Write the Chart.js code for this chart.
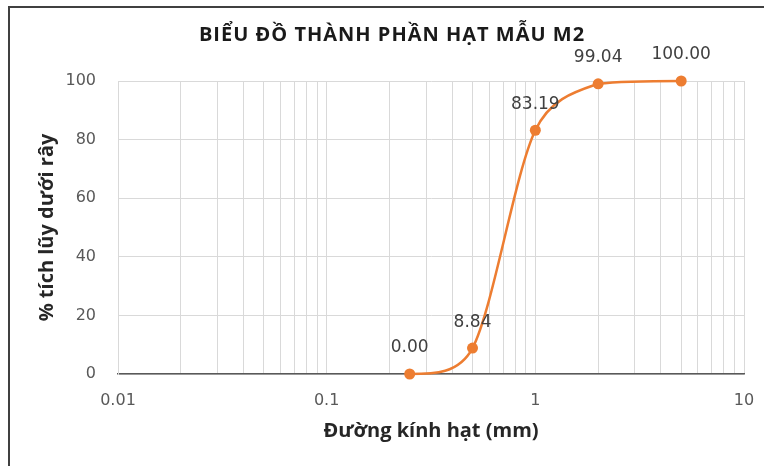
<!DOCTYPE html>
<html>
<head>
<meta charset="utf-8">
<script src="https://cdn.jsdelivr.net/npm/chart.js@4/dist/chart.umd.min.js"></script>
<style>
  html, body { margin: 0; padding: 0; background: #ffffff; }
  #c { display: block; }
</style>
</head>
<body>
<canvas id="c" width="764" height="466"></canvas>
<script>
// ---- data ----
const chartTitle = "BIỂU ĐỒ THÀNH PHẦN HẠT MẪU M2";
const xAxisTitle = "Đường kính hạt (mm)";
const yAxisTitle = "% tích lũy dưới rây";
const grainSizes = [0.25, 0.5, 1, 2, 5];            // mm
const passingPct = [0.00, 8.84, 83.19, 99.04, 100.00]; // %
const xDecades = [0.01, 0.1, 1];
const xMultiples = [1, 2, 3, 4, 5, 6, 7, 8, 9];
const xMin = 0.01, xMax = 10;
const yMin = 0, yMax = 100, yStep = 20;

const ORANGE = '#ED7D31';

const gridValues = [];
xDecades.forEach(d => xMultiples.forEach(m => gridValues.push(+(d * m).toPrecision(3))));
gridValues.push(xMax);

const framePlugin = {
  id: 'frame',
  beforeDraw(chart) {
    const ctx = chart.ctx;
    ctx.save();
    ctx.fillStyle = '#ffffff';
    ctx.fillRect(0, 0, chart.width, chart.height);
    ctx.strokeStyle = '#404040';
    ctx.lineWidth = 2;
    ctx.beginPath();
    ctx.moveTo(9, chart.height);
    ctx.lineTo(9, 7);
    ctx.lineTo(chart.width, 7);
    ctx.stroke();
    // title
    ctx.fillStyle = '#1a1a1a';
    ctx.font = 'bold 20px "Open Sans"';
    ctx.letterSpacing = '1px';
    ctx.textAlign = 'center';
    ctx.textBaseline = 'alphabetic';
    ctx.fillText(chartTitle, 392, 41);
    ctx.restore();
  }
};

// Office-style smoothed line: control arms along the neighbour chord,
// length |T|/6 limited by the adjacent segment, flat-ish ends.
const smoothPlugin = {
  id: 'excelSmooth',
  beforeDatasetDraw(chart, args) {
    const meta = args.meta;
    const line = meta.dataset;
    if (!line) return;
    line.updateControlPoints(chart.chartArea, meta.iScale.axis);
    const pts = meta.data;
    const n = pts.length;
    if (n < 2) return;
    const area = chart.chartArea;
    const dist = (a, b) => Math.hypot(b.x - a.x, b.y - a.y);
    for (let i = 1; i < n - 1; i++) {
      const p = pts[i], prev = pts[i - 1], next = pts[i + 1];
      const tx = next.x - prev.x, ty = next.y - prev.y;
      const len = Math.hypot(tx, ty) || 1;
      const ux = tx / len, uy = ty / len;
      const armIn = Math.min(len / 6, 0.44 * dist(prev, p));
      const armOut = Math.min(len / 6, 0.44 * dist(p, next));
      p.cp1x = p.x - ux * armIn; p.cp1y = p.y - uy * armIn;
      p.cp2x = p.x + ux * armOut; p.cp2y = p.y + uy * armOut;
    }
    const p0 = pts[0], p1 = pts[1];
    const src1 = n > 2 ? { x: p1.cp1x, y: p1.cp1y } : p1;
    p0.cp2x = (p0.x + src1.x) / 2; p0.cp2y = (p0.y + src1.y) / 2;
    const pn = pts[n - 1], pm = pts[n - 2];
    const srcm = n > 2 ? { x: pm.cp2x, y: pm.cp2y } : pm;
    pn.cp1x = (pn.x + srcm.x) / 2; pn.cp1y = (pn.y + srcm.y) / 2;
    const clampY = v => Math.min(area.bottom, Math.max(area.top, v));
    pts.forEach(p => {
      if (p.cp1y !== undefined) p.cp1y = clampY(p.cp1y);
      if (p.cp2y !== undefined) p.cp2y = clampY(p.cp2y);
    });
  }
};

const labelPlugin = {
  id: 'pointLabels',
  afterDatasetsDraw(chart) {
    const ctx = chart.ctx;
    const meta = chart.getDatasetMeta(0);
    ctx.save();
    ctx.fillStyle = '#404040';
    ctx.font = '17px "DejaVu Sans"';
    ctx.textAlign = 'center';
    ctx.textBaseline = 'middle';
    meta.data.forEach((pt, i) => {
      ctx.fillText(passingPct[i].toFixed(2), pt.x, pt.y - 26);
    });
    ctx.restore();
  }
};

new Chart(document.getElementById('c'), {
  type: 'line',
  data: {
    datasets: [{
      data: grainSizes.map((x, i) => ({ x: x, y: passingPct[i] })),
      borderColor: ORANGE,
      backgroundColor: ORANGE,
      borderWidth: 2.5,
      pointRadius: 5.5,
      pointHoverRadius: 5.5,
      pointBackgroundColor: ORANGE,
      pointBorderColor: ORANGE,
      pointBorderWidth: 0,
      tension: 0.4,
      fill: false,
      clip: 6
    }]
  },
  options: {
    responsive: false,
    animation: false,
    events: [],
    layout: { padding: { left: 10, right: 20, top: 81, bottom: 0 } },
    plugins: {
      legend: { display: false },
      title: { display: false },
      tooltip: { enabled: false }
    },
    scales: {
      x: {
        type: 'logarithmic',
        min: xMin,
        max: xMax,
        afterBuildTicks(scale) {
          scale.ticks = gridValues.map(v => ({ value: v }));
        },
        afterFit(scale) {
          scale.height = 92;
          scale.paddingLeft = 0; scale.paddingRight = 0;
        },
        grid: { color: '#d9d9d9', lineWidth: 1, drawTicks: false },
        border: { color: '#595959', width: 1.5 },
        ticks: {
          autoSkip: false,
          maxRotation: 0,
          padding: 17,
          color: '#595959',
          font: { family: '"DejaVu Sans"', size: 16 },
          callback(value) {
            const l = Math.log10(value);
            return Math.abs(l - Math.round(l)) < 1e-9 ? String(+value.toPrecision(3)) : '';
          }
        },
        title: {
          display: true,
          text: xAxisTitle,
          color: '#262626',
          font: { family: '"Open Sans"', size: 20, weight: 'bold' },
          padding: { top: 0, bottom: 23 }
        }
      },
      y: {
        type: 'linear',
        min: yMin,
        max: yMax,
        ticks: {
          stepSize: yStep,
          padding: 22,
          color: '#595959',
          font: { family: '"DejaVu Sans"', size: 16 }
        },
        afterFit(scale) {
          scale.width = 108;
          scale.paddingTop = 0; scale.paddingBottom = 0;
        },
        grid: { color: '#d9d9d9', lineWidth: 1, drawTicks: false },
        border: { color: '#d9d9d9', width: 1 },
        title: {
          display: true,
          text: yAxisTitle,
          color: '#262626',
          font: { family: '"Open Sans"', size: 20, weight: 'bold' },
          padding: { top: 25, bottom: 0 }
        }
      }
    }
  },
  plugins: [framePlugin, smoothPlugin, labelPlugin]
});
</script>
</body>
</html>
